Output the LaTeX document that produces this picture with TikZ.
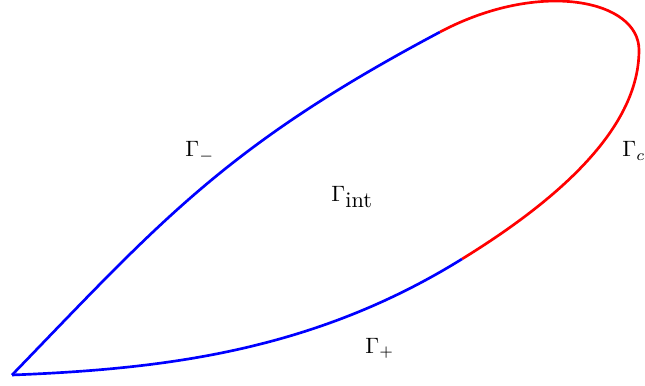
\documentclass[tikz,border=0pt]{standalone}
\usepackage{tikz}
\usepackage{xcolor}
\usetikzlibrary{positioning}
\definecolor{Blue}{HTML}{0000FF}
\definecolor{Red}{HTML}{FF0000}

\begin{document}
\begin{tikzpicture}[x=0.45pt,y=-0.45pt]
        \useasboundingbox (0,0) rectangle (645,385);
        \coordinate (tip) at (12,375);
        \coordinate (upper) at (440,32);
        \coordinate (right) at (639,50);
        \coordinate (lower) at (462,259);
        \draw[Blue, line width=1.2pt] (tip) .. controls (160,222) and (225,146) .. (upper);
        \draw[Red, line width=1.2pt] (upper) .. controls (540,-21) and (639,0) .. (right)
          .. controls (639,110) and (592,179) .. (lower);
        \draw[Blue, line width=1.2pt] (lower) .. controls (312,352) and (162,369) .. (tip);
        \foreach \n/\x/\y/\t in {gminus/185/157/{\Gamma_-},gint/331/201/{\Gamma_\textrm{int}},gc/622/157/{\Gamma_c},gplus/365/353/{\Gamma_+}} {
          \node[anchor=base west, inner sep=0pt] (\n) at (\x,\y) {$\t$};
        }
      \end{tikzpicture}
\end{document}
